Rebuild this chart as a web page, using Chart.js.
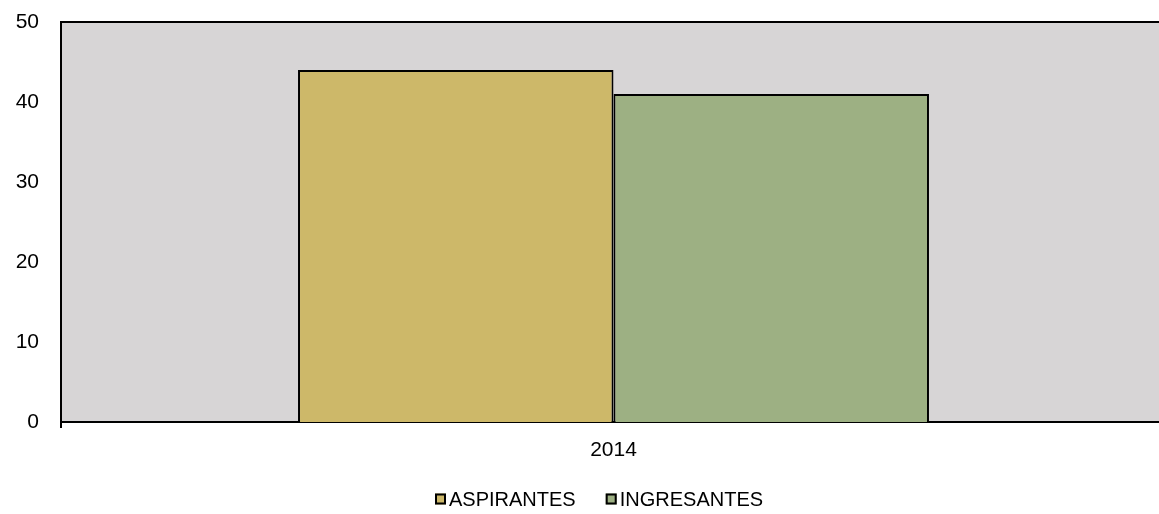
<!DOCTYPE html>
<html><head><meta charset="utf-8">
<script src="https://cdn.jsdelivr.net/npm/chart.js@4.4.1/dist/chart.umd.min.js"></script>
<style>html,body{margin:0;padding:0;background:#fff;overflow:hidden}#wrap{width:1159px;height:514px;overflow:hidden;position:relative}canvas{position:absolute;left:0;top:0}</style>
</head><body><div id="wrap"><canvas id="c" width="1166" height="514"></canvas></div>
<script>
const categories = ['2014'];
const aspirantes = [44];
const ingresantes = [41];
const seriesNames = ['ASPIRANTES', 'INGRESANTES'];
const seriesColors = ['#CDB869', '#9DB083'];
const yMin = 0, yMax = 50, yStep = 10;

const FONT = '"Liberation Sans", Arial, sans-serif';

const bgPlugin = {
  id: 'bgPlugin',
  beforeDraw(chart) {
    const {ctx, chartArea: a} = chart;
    ctx.save();
    ctx.fillStyle = '#D7D5D6';
    ctx.fillRect(a.left, a.top, a.right - a.left, a.bottom - a.top);
    ctx.restore();
  },
  afterDatasetsDraw(chart) {
    const {ctx, chartArea: a} = chart;
    ctx.save();
    ctx.strokeStyle = '#000';
    ctx.lineWidth = 2;
    ctx.beginPath();
    ctx.moveTo(a.left - 1, a.top);
    ctx.lineTo(a.right + 2, a.top);
    ctx.stroke();
    ctx.restore();
  },
  afterDraw(chart) {
    const ctx = chart.ctx;
    ctx.save();
    ctx.font = '20px ' + FONT;
    ctx.textBaseline = 'middle';
    const box = 11, gapText = 3, gapItem = 30, cy = 499;
    let x = 435;
    chart.data.datasets.forEach((d) => {
      ctx.fillStyle = d.backgroundColor;
      ctx.fillRect(x, cy - box / 2, box, box);
      ctx.strokeStyle = '#000';
      ctx.lineWidth = 2;
      ctx.strokeRect(x + 1, cy - box / 2 + 1, box - 2, box - 2);
      x += box + gapText;
      ctx.fillStyle = '#000';
      ctx.fillText(d.label, x, cy + 1);
      x += ctx.measureText(d.label).width + gapItem;
    });
    ctx.restore();
  }
};

Chart.defaults.font.family = FONT;
Chart.defaults.color = '#000';

new Chart(document.getElementById('c'), {
  type: 'bar',
  data: {
    labels: categories,
    datasets: [
      {label: seriesNames[0], data: aspirantes, backgroundColor: seriesColors[0], borderColor: '#000', borderWidth: 2},
      {label: seriesNames[1], data: ingresantes, backgroundColor: seriesColors[1], borderColor: '#000', borderWidth: 2}
    ]
  },
  options: {
    responsive: false,
    animation: false,
    devicePixelRatio: 1,
    layout: {padding: {top: 22, right: 0, left: 0, bottom: 42}},
    datasets: {bar: {barPercentage: 1, categoryPercentage: 0.571}},
    plugins: {
      tooltip: {enabled: false},
      legend: {display: false}
    },
    scales: {
      x: {
        grid: {display: true, drawOnChartArea: false, drawTicks: true, tickLength: 6, color: '#000', lineWidth: 2},
        border: {display: true, color: '#000', width: 2},
        ticks: {padding: 10, color: '#000', font: {size: 21}},
        afterFit(s) { s.height = 50; s.paddingLeft = 0; s.paddingRight = 0; }
      },
      y: {
        min: yMin, max: yMax,
        grid: {display: false, drawTicks: false},
        border: {display: true, color: '#000', width: 2},
        ticks: {stepSize: yStep, padding: 22, color: '#000', font: {size: 21}},
        afterFit(s) { s.width = 61; s.paddingTop = 0; s.paddingBottom = 0; }
      }
    }
  },
  plugins: [bgPlugin]
});
</script></body></html>
